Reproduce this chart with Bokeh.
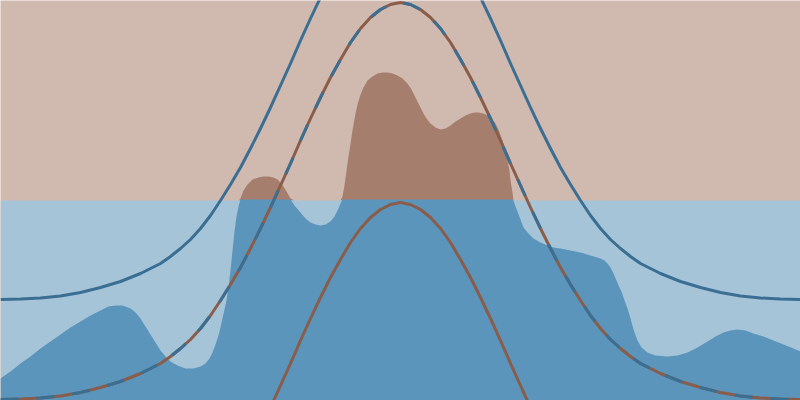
import numpy as np
from bokeh.plotting import figure
from bokeh.embed import file_html
from bokeh.resources import INLINE

# bell curve (x in -4..4, height in 0..4)
bell_x = [-4.0, -3.8, -3.6, -3.4, -3.2, -3.0, -2.9, -2.8, -2.7, -2.6, -2.5, -2.4, -2.3,
          -2.2, -2.1, -2.0, -1.9, -1.8, -1.7, -1.6, -1.5, -1.4, -1.3, -1.2, -1.1, -1.0,
          -0.9, -0.8, -0.7, -0.6, -0.5, -0.4, -0.3, -0.2, -0.1, 0.0,
          0.1, 0.2, 0.3, 0.4, 0.5, 0.6, 0.7, 0.8, 0.9, 1.0, 1.1, 1.2, 1.3, 1.4, 1.5,
          1.6, 1.7, 1.8, 1.9, 2.0, 2.1, 2.2, 2.3, 2.4, 2.5, 2.6, 2.7, 2.8, 2.9, 3.0,
          3.2, 3.4, 3.6, 3.8, 4.0]
bell_y = [0.01, 0.015, 0.025, 0.045, 0.08, 0.13, 0.16, 0.19, 0.23, 0.27, 0.32, 0.37, 0.44,
          0.52, 0.61, 0.72, 0.85, 1.00, 1.16, 1.33, 1.52, 1.72, 1.93, 2.15, 2.37, 2.60,
          2.82, 3.03, 3.23, 3.41, 3.58, 3.72, 3.83, 3.91, 3.96, 3.98,
          3.96, 3.91, 3.83, 3.72, 3.58, 3.41, 3.23, 3.03, 2.82, 2.60, 2.37, 2.15, 1.93, 1.72, 1.52,
          1.33, 1.16, 1.00, 0.85, 0.72, 0.61, 0.52, 0.44, 0.37, 0.32, 0.27, 0.23, 0.19, 0.16, 0.13,
          0.08, 0.045, 0.025, 0.015, 0.01]

# density outline
dens_x = [-4.00, -3.90, -3.80, -3.70, -3.60, -3.50, -3.40, -3.30, -3.20, -3.10, -3.00,
          -2.92, -2.85, -2.78, -2.70, -2.65, -2.60, -2.55, -2.50, -2.45, -2.40, -2.35,
          -2.30, -2.23, -2.15, -2.07, -2.00, -1.95, -1.91, -1.88, -1.85, -1.82, -1.80,
          -1.78, -1.76, -1.74, -1.72, -1.70, -1.68, -1.66, -1.64, -1.62, -1.60, -1.57,
          -1.53, -1.48, -1.42, -1.37, -1.32, -1.27, -1.23, -1.20, -1.17, -1.14, -1.10,
          -1.06, -1.00, -0.95, -0.90, -0.85, -0.80, -0.75, -0.70, -0.66, -0.63, -0.60,
          -0.58, -0.56, -0.54, -0.52, -0.50, -0.48, -0.45, -0.43, -0.40, -0.37, -0.33,
          -0.28, -0.23, -0.18, -0.13, -0.08, -0.03, 0.02, 0.07, 0.11, 0.15, 0.19, 0.23,
          0.26, 0.30, 0.35, 0.40, 0.45, 0.50, 0.55, 0.60, 0.65, 0.70, 0.74, 0.78, 0.83,
          0.87, 0.91, 0.95, 0.98, 1.02, 1.05, 1.07, 1.09, 1.10, 1.12, 1.13, 1.15, 1.17,
          1.20, 1.23, 1.28, 1.33, 1.40, 1.47, 1.53, 1.60, 1.70, 1.80, 1.90, 2.00, 2.04,
          2.07, 2.10, 2.13, 2.16, 2.18, 2.21, 2.23, 2.27, 2.30, 2.33, 2.37, 2.41, 2.47,
          2.55, 2.67, 2.77, 2.87, 2.97, 3.07, 3.15, 3.23, 3.30, 3.37, 3.45, 3.53, 3.63,
          3.73, 3.83, 3.93, 4.00]
dens_y = [0.22, 0.29, 0.37, 0.44, 0.52, 0.59, 0.66, 0.73, 0.79, 0.85, 0.90,
          0.94, 0.95, 0.95, 0.92, 0.88, 0.82, 0.74, 0.66, 0.58, 0.50, 0.44,
          0.39, 0.35, 0.32, 0.32, 0.34, 0.37, 0.42, 0.48, 0.56, 0.65, 0.73,
          0.82, 0.91, 1.00, 1.13, 1.30, 1.50, 1.69, 1.84, 1.94, 2.02, 2.10,
          2.16, 2.21, 2.23, 2.24, 2.24, 2.23, 2.21, 2.18, 2.14, 2.09, 2.02,
          1.95, 1.88, 1.82, 1.78, 1.76, 1.75, 1.76, 1.79, 1.84, 1.90, 1.97,
          2.04, 2.15, 2.30, 2.44, 2.57, 2.70, 2.87, 2.96, 3.06, 3.13, 3.20,
          3.24, 3.27, 3.28, 3.28, 3.27, 3.25, 3.22, 3.17, 3.11, 3.03, 2.95, 2.87,
          2.82, 2.77, 2.73, 2.71, 2.72, 2.75, 2.79, 2.82, 2.85, 2.87, 2.88, 2.88, 2.87,
          2.85, 2.82, 2.77, 2.71, 2.60, 2.50, 2.40, 2.30, 2.20, 2.08, 2.00, 1.94, 1.89,
          1.81, 1.73, 1.67, 1.62, 1.58, 1.55, 1.53, 1.52, 1.50, 1.48, 1.45, 1.42, 1.40,
          1.37, 1.33, 1.27, 1.20, 1.15, 1.09, 1.03, 0.92, 0.82, 0.71, 0.60, 0.53, 0.48,
          0.45, 0.44, 0.45, 0.48, 0.53, 0.59, 0.64, 0.68, 0.70, 0.71, 0.70, 0.67, 0.64,
          0.60, 0.56, 0.52, 0.49]

mid = 2.0
outer_shift = 1.0
inner_shift = -2.0

light_brown = "#d0b9ae"
dark_brown = "#a67e6d"
light_blue = "#a6c4d8"
dark_blue = "#5b95bb"
line_blue = "#3a6f93"
line_brown = "#8a5c4a"

p = figure(width=800, height=400, x_range=(-4, 4), y_range=(0, 4),
           toolbar_location=None, output_backend="svg",
           x_axis_location=None, y_axis_location=None, min_border=0)
p.grid.visible = False
p.outline_line_color = None
p.background_fill_color = light_brown

d = np.array(dens_y)
# upper band part of the density
p.varea(x=dens_x, y1=mid, y2=np.maximum(d, mid), color=dark_brown)
# lower band and its part of the density (a hair over the edge to hide the seam)
p.quad(left=-4, right=4, bottom=0, top=mid, color=light_blue, line_color=None)
p.varea(x=dens_x, y1=0, y2=np.minimum(d, mid + 0.01), color=dark_blue)

b = np.array(bell_y)
p.line(bell_x, b + outer_shift, line_color=line_blue, line_width=3, line_join="round")
p.line(bell_x, b, line_color=line_brown, line_width=3, line_join="round")
p.line(bell_x, b, line_color=line_blue, line_width=3, line_dash="18 18")
p.line(bell_x, b + inner_shift, line_color=line_brown, line_width=3, line_join="round")

open("out.html", "w").write(file_html(p, INLINE))
